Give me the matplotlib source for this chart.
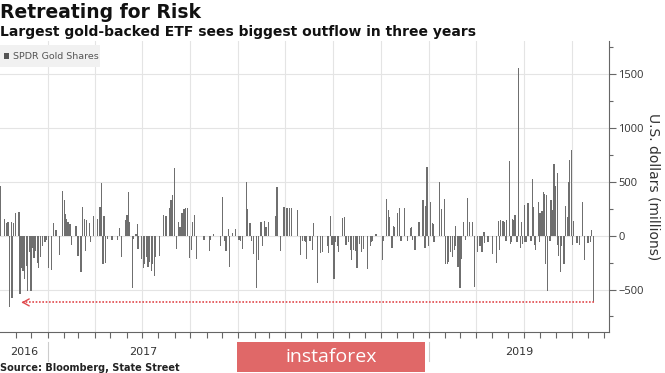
import matplotlib
matplotlib.use('Agg')
import matplotlib.pyplot as plt
import matplotlib.dates as mdates
import matplotlib.transforms as mtransforms
from matplotlib.patches import Rectangle
from matplotlib.ticker import MultipleLocator
import pandas as pd

# ---------------- data (daily flows, USD millions) ----------------
dates = [
    '2016-10-03', '2016-10-11', '2016-10-14', '2016-10-17', '2016-10-20', '2016-10-24', '2016-10-25', '2016-10-28',
    '2016-11-01', '2016-11-07', '2016-11-09', '2016-11-11', '2016-11-14', '2016-11-15', '2016-11-17', '2016-11-18',
    '2016-11-21', '2016-11-24', '2016-11-28', '2016-11-30',
    '2016-12-02', '2016-12-06', '2016-12-09', '2016-12-12', '2016-12-15', '2016-12-19', '2016-12-22', '2016-12-27', '2016-12-29',
    '2017-01-03', '2017-01-09', '2017-01-12', '2017-01-17', '2017-01-23', '2017-01-30',
    '2017-02-02', '2017-02-03', '2017-02-06', '2017-02-09', '2017-02-13', '2017-02-16', '2017-02-24', '2017-02-28',
    '2017-03-06', '2017-03-09', '2017-03-13', '2017-03-14', '2017-03-17', '2017-03-22', '2017-03-24', '2017-03-30',
    '2017-04-07', '2017-04-11', '2017-04-14', '2017-04-17', '2017-04-19', '2017-04-21', '2017-04-25',
    '2017-05-04', '2017-05-15', '2017-05-18', '2017-05-22', '2017-05-30',
    '2017-06-02', '2017-06-05', '2017-06-07', '2017-06-12', '2017-06-14', '2017-06-19', '2017-06-22', '2017-06-23', '2017-06-29',
    '2017-07-03', '2017-07-06', '2017-07-10', '2017-07-12', '2017-07-14', '2017-07-18', '2017-07-21', '2017-07-24', '2017-07-26',
    '2017-08-03', '2017-08-11', '2017-08-14', '2017-08-16', '2017-08-23', '2017-08-25', '2017-08-28',
    '2017-09-01', '2017-09-05', '2017-09-08', '2017-09-11', '2017-09-15', '2017-09-19', '2017-09-22', '2017-09-25', '2017-09-29',
    '2017-10-03', '2017-10-05', '2017-10-09', '2017-10-13', '2017-10-27',
    '2017-11-06', '2017-11-08', '2017-11-14', '2017-11-28',
    '2017-12-01', '2017-12-05', '2017-12-08', '2017-12-13', '2017-12-15', '2017-12-20', '2017-12-26',
    '2018-01-02', '2018-01-05', '2018-01-09', '2018-01-17', '2018-01-19', '2018-01-23', '2018-01-26', '2018-01-30',
    '2018-02-05', '2018-02-09', '2018-02-13', '2018-02-16', '2018-02-20', '2018-02-23', '2018-02-28',
    '2018-03-13', '2018-03-16', '2018-03-23', '2018-03-29',
    '2018-04-04', '2018-04-09', '2018-04-13', '2018-04-24', '2018-04-30',
    '2018-05-03', '2018-05-07', '2018-05-09', '2018-05-11', '2018-05-18', '2018-05-23', '2018-05-25',
    '2018-06-01', '2018-06-07', '2018-06-11', '2018-06-20', '2018-06-22', '2018-06-26', '2018-06-29',
    '2018-07-03', '2018-07-06', '2018-07-09', '2018-07-11', '2018-07-12', '2018-07-19', '2018-07-23', '2018-07-26', '2018-07-31',
    '2018-08-03', '2018-08-06', '2018-08-09', '2018-08-14', '2018-08-16', '2018-08-21', '2018-08-24', '2018-08-28',
    '2018-09-05', '2018-09-10', '2018-09-12', '2018-09-14', '2018-09-21',
    '2018-10-03', '2018-10-05', '2018-10-11', '2018-10-15', '2018-10-17', '2018-10-22', '2018-10-24', '2018-10-26',
    '2018-11-01', '2018-11-05', '2018-11-08', '2018-11-15', '2018-11-20', '2018-11-26', '2018-11-28', '2018-11-30',
    '2018-12-05', '2018-12-12', '2018-12-14', '2018-12-20', '2018-12-24', '2018-12-26', '2018-12-28', '2018-12-31',
    '2019-01-03', '2019-01-07', '2019-01-09', '2019-01-10', '2019-01-21', '2019-01-25', '2019-01-30',
    '2019-02-01', '2019-02-05', '2019-02-07', '2019-02-11', '2019-02-14', '2019-02-18', '2019-02-20', '2019-02-21',
    '2019-02-25', '2019-02-27', '2019-02-28',
    '2019-03-01', '2019-03-04', '2019-03-08', '2019-03-12', '2019-03-15', '2019-03-19', '2019-03-25', '2019-03-29',
    '2019-04-03', '2019-04-08', '2019-04-10', '2019-04-12', '2019-04-16', '2019-04-17', '2019-04-22', '2019-04-25',
    '2019-05-02', '2019-05-10', '2019-05-14', '2019-05-16', '2019-05-17', '2019-05-22', '2019-05-24', '2019-05-28', '2019-05-29',
    '2019-06-03', '2019-06-05', '2019-06-07', '2019-06-10', '2019-06-12', '2019-06-14', '2019-06-18', '2019-06-21',
    '2019-06-25', '2019-06-27', '2019-06-28',
    '2019-07-02', '2019-07-03', '2019-07-05', '2019-07-09', '2019-07-15', '2019-07-18', '2019-07-19', '2019-07-22',
    '2019-07-24', '2019-07-29', '2019-07-31',
    '2019-08-01', '2019-08-05', '2019-08-07', '2019-08-09', '2019-08-12', '2019-08-13', '2019-08-15', '2019-08-20',
    '2019-08-22', '2019-08-23', '2019-08-26', '2019-08-28', '2019-08-30',
    '2019-09-03', '2019-09-04', '2019-09-06', '2019-09-09', '2019-09-11', '2019-09-16', '2019-09-19', '2019-09-23',
    '2019-09-24', '2019-09-26', '2019-09-30',
    '2019-10-02', '2019-10-04', '2019-10-11', '2019-10-15', '2019-10-21', '2019-10-25',
    '2019-11-01', '2019-11-05', '2019-11-08', '2019-11-12',
]
flows = [
    460, 155, 115, 130, -665, 130, -575, 115,
    210, 222, -540, -300, -260, -330, -230, -400,
    -280, -510, -150, -510,
    -110, -210, -140, -250, -300, -200, -100, -60, -40,
    -300, -320, 115, 50, -180, 420,
    330, 200, 160, 130, 110, -90, 90, -190,
    -340, 270, 160, -140, 150, 115, -55, 180,
    160, 270, 490, -260, 180, -250, -30,
    -40, -40, 70, -200, 145,
    190, 405, 130, -490, -30, 15, 110, -120, -220,
    -300, -260, -200, -290, -240, -330, -260, -370, -200,
    -190, 190, 180, 180, 260, 330, 380,
    630, -120, 130, 85, 215, 245, 260, 260, -205,
    -130, 130, 190, -220, -40,
    -140, -40, 15, -100,
    360, -50, -140, 60, -290, 25, 65,
    -40, -50, -120, 500, 245, 115, -50, -170,
    -490, -230, 125, -100, 140, 80, 125,
    185, 450, -140, 265,
    255, 255, 255, 235, -180,
    -45, -45, -60, -220, -45, -130, 120,
    -440, -160, -155, -100, -160, 185, -90,
    -400, -60, -100, -150, -130, 165, 175, -90, -60,
    -130, -230, -130, -140, -300, -80, -150, -120,
    -310, -100, -60, -50, 15,
    -225, -50, 340, 240, 170, -110, 90, 80,
    210, 260, -50, 255, -50, 70, 85, -40,
    -130, 125, 130, 330, -110, 280, 640, -100,
    310, 120, 110, -60, 500, 245, 340,
    -265, -260, -240, -150, -200, -130, 90, -100,
    -290, -140, -210,
    -490, -220, 125, -40, 355, 125, 130, -480,
    -150, -100, -60, -150, 30, -70, -60, -60,
    -170, -255, 135, -130, 145, 140, 130, -50, 150,
    690, -80, -60, 160, 150, 190, -60, 1560,
    -110, 130, -80,
    290, -60, -60, 300, -50, 525, 270, -90,
    -130, 310, -60,
    210, 230, 410, 390, -260, 380, -510, -50,
    330, 210, 240, 665, 460,
    580, -90, -190, -340, -100, -260, 280, 175,
    500, 700, 800,
    -90, 135, -70, -90, 310, -230,
    -70, -55, 55, -620,
]

series_name = 'SPDR Gold Shares'
years = ['2016', '2017', '2018', '2019']
shown_year_labels = ['2016', '2017', '2019']   # 2018 is covered by the watermark
y_ticks = [-500, 0, 500, 1000, 1500]
arrow_level = -620
arrow_from = '2019-11-12'
arrow_to = '2016-11-12'

# ---------------- figure ----------------
W, H = 665, 373
fig = plt.figure(figsize=(W / 100, H / 100), dpi=100)
ax = fig.add_axes([0.0, 1 - 332 / H, 609 / W, (332 - 41) / H])

x = mdates.date2num(pd.to_datetime(dates))
ax.bar(x, flows, width=2.4, color='#6f6f6f', edgecolor='none', linewidth=0,
       antialiased=False, zorder=3)

ax.set_xlim(mdates.date2num(pd.Timestamp('2016-10-01 20:00')),
            mdates.date2num(pd.Timestamp('2019-12-11')))
ax.set_ylim(-895, 1810)

# grid
ax.set_yticks(y_ticks)
ax.yaxis.set_minor_locator(MultipleLocator(250))
ax.xaxis.set_major_locator(mdates.MonthLocator(bymonth=[1, 4, 7, 10]))
ax.xaxis.set_minor_locator(mdates.MonthLocator())
ax.grid(True, which='major', color='#e4e4e4', linewidth=0.8, zorder=0)
ax.set_axisbelow(True)
ax.tick_params(axis='x', which='both', labelbottom=False, direction='out',
               length=4, width=0.8, color='#666666')

# right y axis
ax.yaxis.tick_right()
ax.yaxis.set_label_position('right')
ax.tick_params(axis='y', which='major', direction='out', length=5, width=0.8,
               color='#666666', labelsize=8, labelcolor='#333333', pad=1.5)
ax.tick_params(axis='y', which='minor', direction='out', length=3, width=0.8, color='#666666')
for lab in ax.get_yticklabels():
    lab.set_fontfamily(['Open Sans', 'DejaVu Sans'])
ax.set_ylabel('U.S. dollars (millions)', rotation=270, labelpad=12,
              fontsize=10, color='#333333')

for side in ['left', 'top']:
    ax.spines[side].set_visible(False)
for side in ['right', 'bottom']:
    ax.spines[side].set_color('#666666')
    ax.spines[side].set_linewidth(0.8)

# red dotted arrow
xa0 = mdates.date2num(pd.Timestamp(arrow_from))
xa1 = mdates.date2num(pd.Timestamp(arrow_to))
ax.plot([xa0, xa1 + 3], [arrow_level, arrow_level], linestyle=(0, (1, 1)),
        color='#e0494d', linewidth=1.2, zorder=4)
ax.annotate('', xy=(xa1, arrow_level), xytext=(xa1 + 4, arrow_level),
            arrowprops=dict(arrowstyle='->, head_length=0.45, head_width=0.25',
                            color='#e0494d', linewidth=1.0), zorder=4)

# legend box
ax.add_patch(Rectangle((0.0, 0.911), 0.164, 0.075, transform=ax.transAxes,
                       facecolor='#f1f1f1', edgecolor='none', zorder=5))
ax.add_patch(Rectangle((0.0065, 0.937), 0.009, 0.022, transform=ax.transAxes,
                       facecolor='#555555', edgecolor='none', zorder=6))
ax.text(0.021, 0.948, series_name, transform=ax.transAxes, fontsize=6.8,
        color='#555555', va='center', ha='left', zorder=6)

# year labels and separators below the axis
trans = mtransforms.blended_transform_factory(ax.transData, ax.transAxes)
xmin, xmax = ax.get_xlim()
for yl in years:
    y0 = mdates.date2num(pd.Timestamp(f'{yl}-01-01'))
    y1 = mdates.date2num(pd.Timestamp(f'{int(yl) + 1}-01-01'))
    a, b = max(y0, xmin), min(y1, xmax)
    if yl in shown_year_labels:
        ax.text((a + b) / 2, -0.07, yl, transform=trans, ha='center', va='center',
                fontsize=8, color='#333333', clip_on=False, zorder=1)
    if y0 > xmin:
        ax.plot([y0, y0], [-0.035, -0.1], transform=trans, color='#cccccc',
                linewidth=0.8, clip_on=False)

# titles and source
fig.text(0.0, 1 - 17.5 / H, 'Retreating for Risk', fontsize=13.5, fontweight='bold',
         color='#111111', va='baseline', ha='left')
fig.text(0.0, 1 - 36 / H, 'Largest gold-backed ETF sees biggest outflow in three years',
         fontsize=10, fontweight='bold', color='#111111', va='baseline', ha='left')
fig.text(0.0, 1 - 371 / H, 'Source: Bloomberg, State Street', fontsize=7,
         fontweight='bold', color='#222222', va='baseline', ha='left')

# watermark
fig.patches.append(Rectangle((237 / W, 1 - 372 / H), 188 / W, 30 / H,
                             transform=fig.transFigure, facecolor='#e06868',
                             edgecolor='none', zorder=10))
fig.text(331 / W, 1 - 357 / H, 'instaforex', fontsize=14, color='white',
         ha='center', va='center', zorder=11, family=['Open Sans', 'DejaVu Sans'])

fig.savefig('out.png', dpi=100)
